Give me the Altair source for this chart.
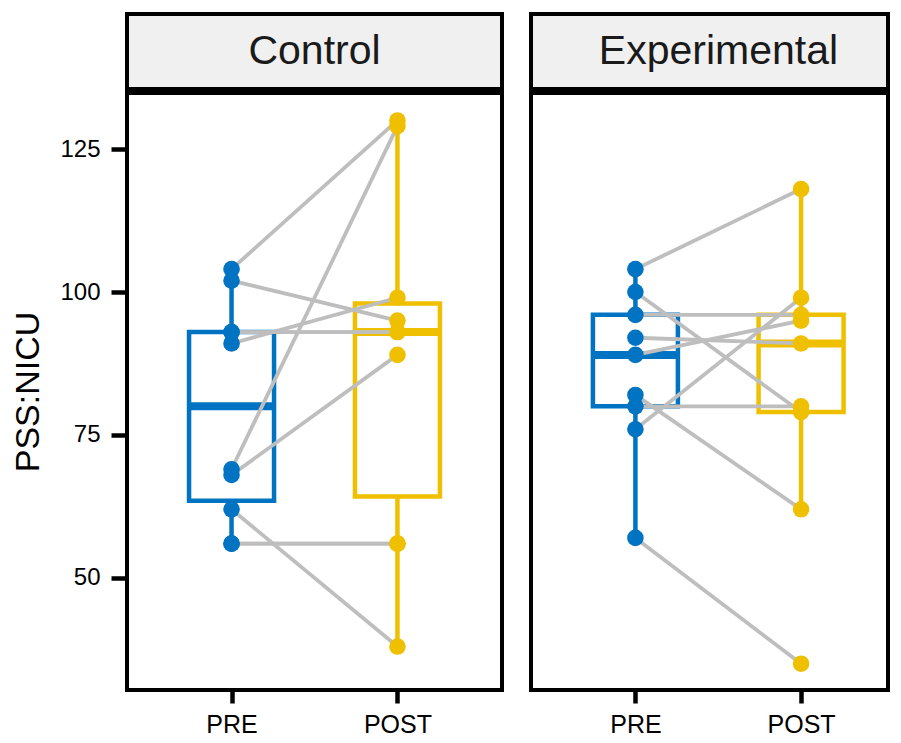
import altair as alt
import pandas as pd

# ---- data ----
groups = ["Control", "Experimental"]
times = ["PRE", "POST"]
time_pos = [1, 2]
ctrl_pre = [104, 102, 93, 93, 91, 69, 68, 62, 56, 56]
ctrl_post = [130, 95, 93, 93, 99, 129, 89, 38, 56, 56]
exp_pre = [104, 100, 96, 92, 89, 82, 80, 76, 57]
exp_post = [118, 79, 96, 91, 95, 62, 80, 99, 35]

rows = []
for g, pre, post in [("Control", ctrl_pre, ctrl_post), ("Experimental", exp_pre, exp_post)]:
    for i, (a, b) in enumerate(zip(pre, post)):
        rows.append({"group": g, "pair": f"{g}-{i}", "time": "PRE", "tx": time_pos[0], "value": a})
        rows.append({"group": g, "pair": f"{g}-{i}", "time": "POST", "tx": time_pos[1], "value": b})
df = pd.DataFrame(rows)

BLUE = "#0073C2"
YELLOW = "#EFC000"
GREY = "#BEBEBE"
FONT = "Liberation Sans"
PW, PH = 375, 597
W2 = 357
SH = 75
YDOM = [30.4, 134.8]
UNIT = PW / 2.2  # pixels per x unit (ggplot discrete expansion 0.6)


def panel(name, show_y, width):
    d = df[df["group"] == name]
    base = alt.Chart(d)
    x = alt.X(
        "tx:Q",
        scale=alt.Scale(domain=[0.4, 0.4 + width / UNIT], nice=False, zero=False),
        axis=alt.Axis(
            title=None, values=time_pos,
            labelExpr="datum.value == 1 ? 'PRE' : 'POST'",
            labelAngle=0, labelFont=FONT, labelFontSize=25,
            labelColor="black", tickColor="black", tickWidth=4.5, tickSize=13,
            labelPadding=9, domain=False, grid=False, labelFlush=False,
        ),
    )
    if show_y:
        yaxis = alt.Axis(
            title="PSS:NICU", titleFont=FONT, titleFontSize=34, titleFontWeight="normal",
            titleColor="black", titlePadding=14, values=[50, 75, 100, 125],
            labelFont=FONT, labelFontSize=24, labelColor="black", tickColor="black",
            tickWidth=4.5, tickSize=16, labelPadding=11, domain=False, grid=False,
        )
    else:
        yaxis = None
    y = alt.Y("value:Q", scale=alt.Scale(domain=YDOM, nice=False, zero=False), axis=yaxis)

    boxes = []
    for t, col in zip(times, [BLUE, YELLOW]):
        boxes.append(
            base.transform_filter(alt.datum.time == t)
            .mark_boxplot(
                color=col, size=85, extent=1.5, ticks=False, outliers=False,
                orient="vertical",
                box={"fill": "white", "stroke": col, "strokeWidth": 4.5},
                median={"color": col, "thickness": 8, "opacity": 1},
                rule={"stroke": col, "strokeWidth": 4.5},
            )
            .encode(x=x, y=y)
        )
    lines = base.mark_line(color=GREY, strokeWidth=3.8).encode(x=x, y=y, detail="pair:N")
    points = base.mark_circle(size=275, opacity=1).encode(
        x=x, y=y,
        color=alt.Color("time:N", scale=alt.Scale(domain=times, range=[BLUE, YELLOW]), legend=None),
    )
    return alt.layer(*boxes, lines, points).properties(
        width=width, height=PH,
        view=alt.ViewBackground(fill="white", stroke="black", strokeWidth=4),
    )


def strip(name, width):
    return (
        alt.Chart(pd.DataFrame({"label": [name]}))
        .mark_text(font=FONT, fontSize=41, color="#1a1a1a", baseline="middle", align="center")
        .encode(text="label:N", x=alt.value(PW / 2))
        .properties(
            width=width, height=SH,
            view=alt.ViewBackground(fill="#F0F0F0", stroke="black", strokeWidth=4),
        )
    )


chart = alt.hconcat(
    alt.vconcat(strip("Control", PW), panel("Control", True, PW), spacing=0),
    alt.vconcat(strip("Experimental", W2), panel("Experimental", False, W2), spacing=0),
    spacing=25,
).properties(padding={"top": 4, "left": 1, "right": 0, "bottom": 0}, background="white")

chart.save("out.html", embed_options={"renderer": "svg", "actions": False})
